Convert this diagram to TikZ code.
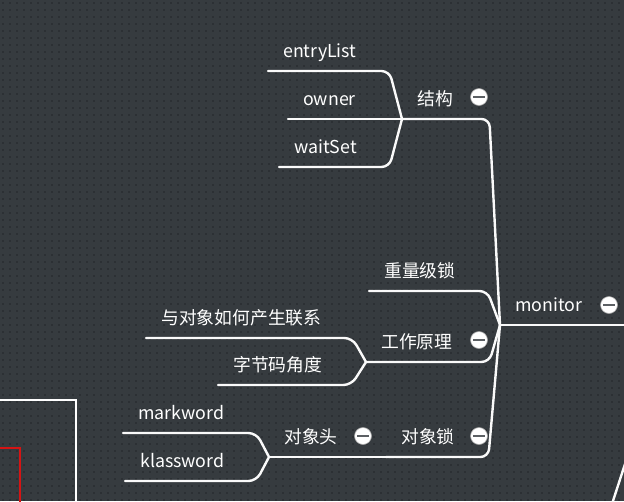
\documentclass[tikz,border=0pt]{standalone}
\usepackage{fontspec}
\usepackage{tikz}
\usetikzlibrary{positioning,calc}
\newfontfamily\cjkfont{Noto Sans CJK SC}
\definecolor{board}{RGB}{54,59,63}
\definecolor{boarddot}{RGB}{44,48,52}
\definecolor{branchwhite}{RGB}{250,250,250}
\definecolor{foldbar}{RGB}{92,96,100}
\definecolor{frameRed}{RGB}{214,20,20}
\tikzset{
  topic/.style={anchor=south west, inner sep=0pt, text=white,
    font=\cjkfont\fontsize{17.8}{20}\selectfont, text width=#1, align=left,
    text height=14pt, text depth=13pt, execute at begin node={\noindent\hspace*{15pt}}},
  link/.style={draw=branchwhite, line width=2.4pt, rounded corners=8pt, line cap=round},
  fold/.style={circle, fill=white, draw=gray!70, line width=0.6pt, minimum size=17pt,
    inner sep=0pt, path picture={\draw[foldbar, line width=1.8pt]
      ([xshift=-6pt]path picture bounding box.center) --
      ([xshift=6pt]path picture bounding box.center);}},
  frame/.style={line width=1.6pt},
}
\begin{document}
\begin{tikzpicture}[x=1pt,y=-1pt]
  \useasboundingbox (0,0) rectangle (624,501);
  \fill[board] (0,0) rectangle (624,501);
  \foreach \i in {0,...,88}
    \foreach \j in {0,...,71}
      \fill[boarddot] (\i*7+2,\j*7+2) rectangle ++(1.6,1.6);

  \node[topic=127pt] (monitor) at (500,325) {monitor};
  \node[topic=87pt] (jiegou) at (402,119) {结构};
  \node[topic=118pt] (zhongliang) at (369,291) {重量级锁};
  \node[topic=123pt] (yuanli) at (366,362) {工作原理};
  \node[topic=102pt] (suo) at (386,457) {对象锁};
  \node[topic=104pt] (tou) at (269,457) {对象头};
  \node[topic=121pt] (entry) at (268,71) {entryList};
  \node[topic=101pt] (owner) at (288,119) {owner};
  \node[topic=110pt] (wait) at (279,167) {waitSet};
  \node[topic=206pt] (lianxi) at (146,338) {与对象如何产生联系};
  \node[topic=133pt] (zijie) at (218,385) {字节码角度};
  \node[topic=133pt] (mark) at (123,433) {markword};
  \node[topic=131pt] (klass) at (125,481) {klassword};

  \node[fold] (fMonitor) at (609,305) {};
  \node[fold] (fJiegou) at (479,97) {};
  \node[fold] (fYuanli) at (479,340) {};
  \node[fold] (fSuo) at (479,436) {};
  \node[fold] (fTou) at (363,436) {};

  \draw[link] (monitor.south west) -- (monitor.south east);
  \draw[link] (jiegou.south west) -- (jiegou.south east) -- (monitor.south west);
  \draw[link] (zhongliang.south west) -- (zhongliang.south east) -- (monitor.south west);
  \draw[link] (yuanli.south west) -- (yuanli.south east) -- (monitor.south west);
  \draw[link] (suo.south west) -- (suo.south east) -- (monitor.south west);
  \draw[link] (entry.south west) -- (entry.south east) -- (jiegou.south west);
  \draw[link] (owner.south west) -- (jiegou.south west);
  \draw[link] (wait.south west) -- (wait.south east) -- (jiegou.south west);
  \draw[link] (lianxi.south west) -- (lianxi.south east) -- (yuanli.south west);
  \draw[link] (zijie.south west) -- (zijie.south east) -- (yuanli.south west);
  \draw[link] (tou.south west) -- (suo.south west);
  \draw[link] (mark.south west) -- (mark.south east) -- (tou.south west);
  \draw[link] (klass.south west) -- (klass.south east) -- (tou.south west);

  \coordinate (offTop) at (626,461);
  \coordinate (offBot) at (612,504);
  \draw[link] (offTop) -- (offBot);

  \draw[frame, white] (0,400) -- (76,400) -- (76,502);
  \draw[frame, frameRed] (0,448) -- (20,448) -- (20,502);
\end{tikzpicture}
\end{document}
